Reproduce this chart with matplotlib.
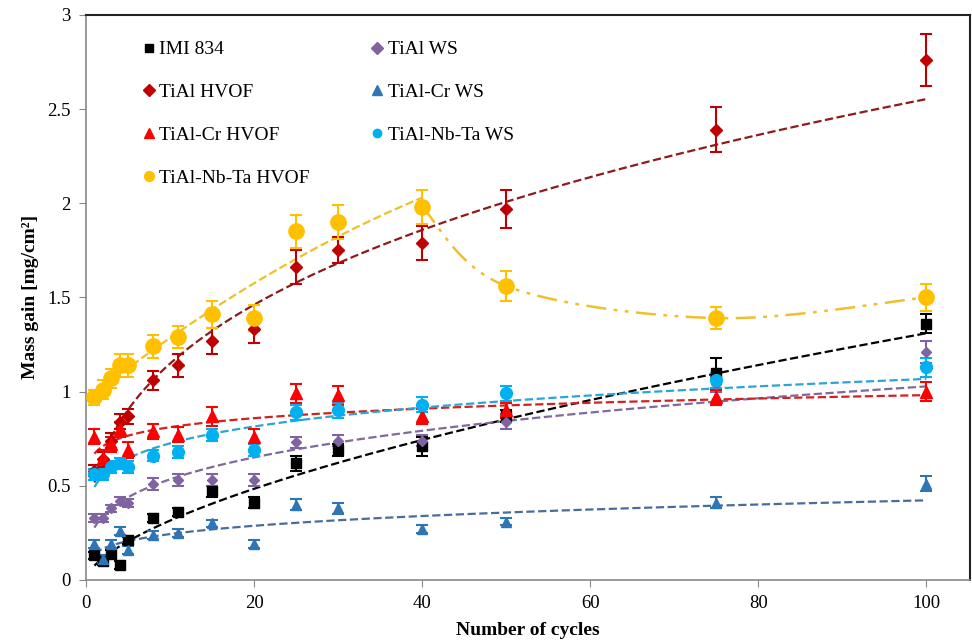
import matplotlib
matplotlib.use("Agg")
import matplotlib.pyplot as plt
from matplotlib.lines import Line2D
import numpy as np

plt.rcParams['font.family'] = ['Liberation Serif', 'DejaVu Serif']

# cycles at which each sample was weighed
cycles = [1, 2, 3, 4, 5, 8, 11, 15, 20, 25, 30, 40, 50, 75, 100]

# mass gain [mg/cm2]
imi834 = [0.13, 0.10, 0.14, 0.08, 0.21, 0.33, 0.36, 0.47, 0.41, 0.62, 0.69, 0.71, 0.87, 1.10, 1.36]
imi834_err = [0.02, 0.02, 0.02, 0.02, 0.02, 0.02, 0.02, 0.03, 0.03, 0.04, 0.03, 0.05, 0.03, 0.08, 0.05]

tial_ws = [0.33, 0.33, 0.38, 0.42, 0.41, 0.51, 0.53, 0.53, 0.53, 0.73, 0.74, 0.74, 0.84, 1.04, 1.21]
tial_ws_err = [0.02, 0.02, 0.02, 0.02, 0.02, 0.03, 0.03, 0.03, 0.03, 0.03, 0.03, 0.03, 0.04, 0.04, 0.06]

tial_hvof = [0.58, 0.64, 0.74, 0.84, 0.87, 1.06, 1.14, 1.27, 1.33, 1.66, 1.75, 1.79, 1.97, 2.39, 2.76]
tial_hvof_err = [0.03, 0.04, 0.04, 0.04, 0.04, 0.05, 0.06, 0.07, 0.07, 0.09, 0.07, 0.09, 0.10, 0.12, 0.14]

tialcr_ws = [0.19, 0.11, 0.19, 0.26, 0.16, 0.24, 0.25, 0.30, 0.19, 0.40, 0.38, 0.27, 0.31, 0.41, 0.51]
tialcr_ws_err = [0.02, 0.02, 0.02, 0.02, 0.02, 0.02, 0.02, 0.02, 0.02, 0.03, 0.03, 0.02, 0.02, 0.03, 0.04]

tialcr_hvof = [0.76, 0.65, 0.72, 0.80, 0.69, 0.79, 0.77, 0.87, 0.76, 0.99, 0.98, 0.87, 0.90, 0.97, 1.00]
tialcr_hvof_err = [0.04, 0.04, 0.04, 0.04, 0.04, 0.04, 0.04, 0.05, 0.04, 0.05, 0.05, 0.04, 0.04, 0.04, 0.05]

tialnbta_ws = [0.56, 0.56, 0.60, 0.62, 0.60, 0.66, 0.68, 0.77, 0.69, 0.89, 0.90, 0.93, 0.99, 1.06, 1.13]
tialnbta_ws_err = [0.03, 0.03, 0.03, 0.03, 0.03, 0.03, 0.03, 0.03, 0.03, 0.04, 0.04, 0.04, 0.04, 0.04, 0.05]

tialnbta_hvof = [0.97, 1.01, 1.07, 1.14, 1.14, 1.24, 1.29, 1.41, 1.39, 1.85, 1.90, 1.98, 1.56, 1.39, 1.50]
tialnbta_hvof_err = [0.04, 0.05, 0.05, 0.06, 0.06, 0.06, 0.06, 0.07, 0.07, 0.09, 0.09, 0.09, 0.08, 0.06, 0.07]

series = [
    ("IMI 834", imi834, imi834_err, 's', 7, '#000000', '#000000'),
    ("TiAl WS", tial_ws, tial_ws_err, 'D', 5.5, '#8064A2', '#7F6A9A'),
    ("TiAl HVOF", tial_hvof, tial_hvof_err, 'D', 6, '#C00000', '#8E1B1B'),
    ("TiAl-Cr WS", tialcr_ws, tialcr_ws_err, '^', 7, '#2E75B6', '#4A6C9B'),
    ("TiAl-Cr HVOF", tialcr_hvof, tialcr_hvof_err, '^', 8, '#FF0000', '#D42020'),
    ("TiAl-Nb-Ta WS", tialnbta_ws, tialnbta_ws_err, 'o', 8.5, '#00B0F0', '#2AA6D6'),
    ("TiAl-Nb-Ta HVOF", tialnbta_hvof, tialnbta_hvof_err, 'o', 11, '#FFC000', '#F0C02A'),
]

fig = plt.figure(figsize=(9.72, 6.44), dpi=100)
ax = fig.add_axes([0.0885, 0.0994, 0.9095, 0.8776])

x = np.array(cycles, dtype=float)
xs = np.linspace(1, 100, 300)

for name, y, err, mk, ms, col, tcol in series:
    y = np.array(y)
    ax.errorbar(x, y, yerr=err, fmt=mk, ms=ms, color=col, mec=col,
                ecolor=col, elinewidth=1.5, capsize=4, capthick=1.5, zorder=3)
    if name == "TiAl-Nb-Ta HVOF":
        # quadratic trend up to 40 cycles, smoothed line after
        k = cycles.index(40)
        c = np.polyfit(x[:k + 1], y[:k + 1], 2)
        xa = np.linspace(1, 40, 200)
        ax.plot(xa, np.polyval(c, xa), '--', color=tcol, lw=1.6, zorder=2)
        px, py = x[k:], y[k:]
        cx, cy = [], []
        for i in range(len(px) - 1):
            p0 = (px[max(i - 1, 0)], py[max(i - 1, 0)])
            p1 = (px[i], py[i])
            p2 = (px[i + 1], py[i + 1])
            p3 = (px[min(i + 2, len(px) - 1)], py[min(i + 2, len(px) - 1)])
            b1 = (p1[0] + (p2[0] - p0[0]) / 6, p1[1] + (p2[1] - p0[1]) / 6)
            b2 = (p2[0] - (p3[0] - p1[0]) / 6, p2[1] - (p3[1] - p1[1]) / 6)
            t = np.linspace(0, 1, 60)
            cx.extend((1 - t) ** 3 * p1[0] + 3 * (1 - t) ** 2 * t * b1[0] + 3 * (1 - t) * t ** 2 * b2[0] + t ** 3 * p2[0])
            cy.extend((1 - t) ** 3 * p1[1] + 3 * (1 - t) ** 2 * t * b1[1] + 3 * (1 - t) * t ** 2 * b2[1] + t ** 3 * p2[1])
        ax.plot(cx, cy, color=tcol, lw=1.8, dashes=[8, 3, 1.5, 3, 1.5, 3], zorder=2)
    else:
        # power trendline like the spreadsheet one
        b, a = np.polyfit(np.log(x), np.log(y), 1)
        ax.plot(xs, np.exp(a) * xs ** b, '--', color=tcol, lw=1.6, zorder=2)

ax.set_xlim(0, 105.2)
ax.set_ylim(0, 3)
ax.set_xticks([0, 20, 40, 60, 80, 100])
ax.set_yticks([0, 0.5, 1, 1.5, 2, 2.5, 3])
ax.set_yticklabels(["0", "0.5", "1", "1.5", "2", "2.5", "3"])
ax.tick_params(direction='out', length=5, color='#888888', labelsize=13.5, pad=6)

for s in ['left', 'bottom']:
    ax.spines[s].set_color('#888888')
    ax.spines[s].set_linewidth(1.2)
for s in ['top', 'right']:
    ax.spines[s].set_color('#222222')
    ax.spines[s].set_linewidth(1.5)

ax.set_xlabel("Number of cycles", fontsize=14, fontweight='bold', labelpad=7)
ax.set_ylabel("Mass gain [mg/cm²]", fontsize=14, fontweight='bold', labelpad=6)

order = [0, 2, 4, 6, 1, 3, 5]
handles = []
for i in order:
    name, y, err, mk, ms, col, tcol = series[i]
    hs = 7 if mk == 'o' and ms > 9 else (6 if mk != '^' else 7)
    handles.append(Line2D([], [], ls='none', marker=mk, ms=hs, color=col, label=name))
ax.legend(handles=handles, ncol=2, loc='upper left', bbox_to_anchor=(0.04, 0.985),
          frameon=False, fontsize=14, handletextpad=0.05, handlelength=1.0,
          labelspacing=1.3, columnspacing=2.95)

fig.savefig("out.png", dpi=100)
